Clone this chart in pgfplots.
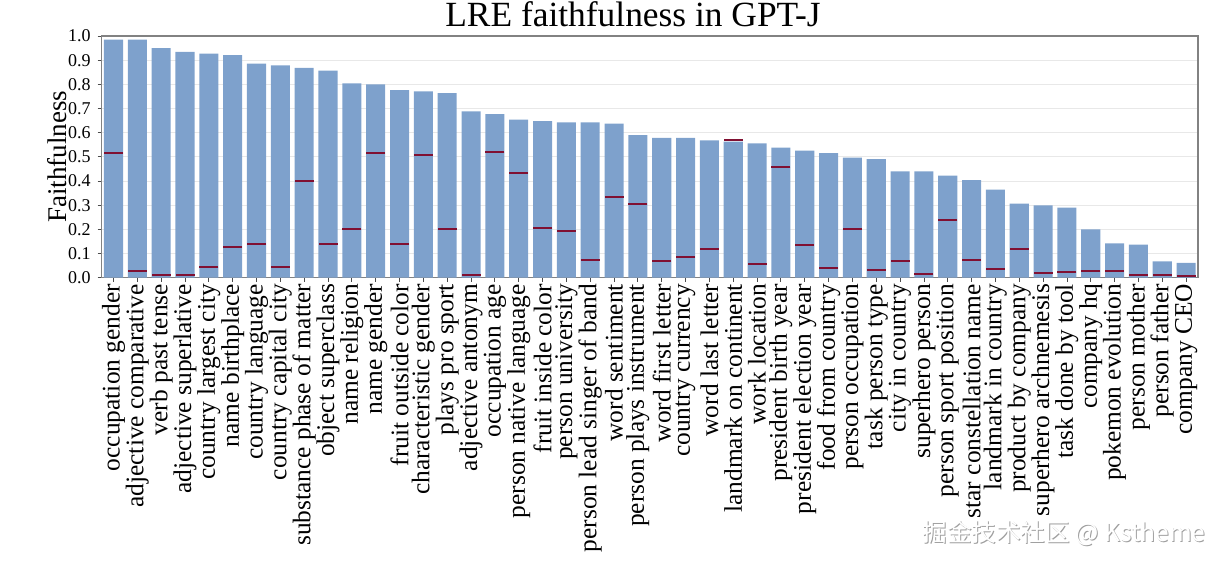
\documentclass[border=0pt]{standalone}
\usepackage{pgfplots}
\usepackage{pgfplotstable}
\pgfplotsset{compat=1.18}
\usepackage{fontspec}
\setmainfont{Liberation Serif}
\newfontfamily\cjk{Noto Sans CJK SC}
\definecolor{barblue}{RGB}{126,161,204}
\definecolor{linered}{RGB}{128,16,50}
\definecolor{framegray}{RGB}{130,130,130}
\pgfplotstableread{
x faith base
0 0.985 0.515
1 0.985 0.028
2 0.950 0.013
3 0.934 0.013
4 0.927 0.044
5 0.921 0.127
6 0.886 0.138
7 0.879 0.044
8 0.868 0.399
9 0.857 0.138
10 0.804 0.200
11 0.800 0.515
12 0.776 0.140
13 0.771 0.508
14 0.764 0.201
15 0.688 0.013
16 0.677 0.520
17 0.654 0.433
18 0.648 0.207
19 0.643 0.195
20 0.643 0.073
21 0.637 0.333
22 0.590 0.305
23 0.579 0.068
24 0.579 0.084
25 0.568 0.119
26 0.563 0.571
27 0.556 0.057
28 0.538 0.457
29 0.526 0.137
30 0.515 0.039
31 0.497 0.200
32 0.491 0.030
33 0.440 0.068
34 0.440 0.015
35 0.422 0.240
36 0.404 0.073
37 0.364 0.036
38 0.306 0.118
39 0.299 0.019
40 0.290 0.023
41 0.200 0.028
42 0.142 0.028
43 0.137 0.012
44 0.068 0.010
45 0.061 0.008
}\datatable
\begin{document}
\begin{tikzpicture}
\path[use as bounding box] (0,0) rectangle (613.5pt,282pt);
\begin{axis}[
  at={(50.8pt,143.15pt)}, anchor=south west,
  scale only axis, width=548.2pt, height=120.85pt,
  xmin=-0.5, xmax=45.5, ymin=0, ymax=1.0,
  xtick=data,
  xticklabels={occupation gender, adjective comparative, verb past tense, adjective superlative, country largest city, name birthplace, country language, country capital city, substance phase of matter, object superclass, name religion, name gender, fruit outside color, characteristic gender, plays pro sport, adjective antonym, occupation age, person native language, fruit inside color, person university, person lead singer of band, word sentiment, person plays instrument, word first letter, country currency, word last letter, landmark on continent, work location, president birth year, president election year, food from country, person occupation, task person type, city in country, superhero person, person sport position, star constellation name, landmark in country, product by company, superhero archnemesis, task done by tool, company hq, pokemon evolution, person mother, person father, company CEO},
  xticklabel style={rotate=90, anchor=east, font=\fontsize{12.7}{13}\selectfont, inner sep=1pt},
  ytick={0,0.1,...,1.0},
  yticklabel style={font=\fontsize{9}{10}\selectfont},
  /pgf/number format/fixed,
  /pgf/number format/fixed zerofill,
  /pgf/number format/precision=1,
  /pgf/number format/assume math mode=true,
  ymajorgrids, grid style={color=gray!18, line width=0.5pt},
  axis line style={color=framegray, line width=0.7pt},
  tick align=outside, major tick length=2pt,
  xtick pos=bottom, ytick pos=left,
  tick style={color=black!70, line width=0.4pt},
  ylabel={Faithfulness},
  ylabel style={at={(axis description cs:-0.0407,0.5)}, anchor=center, font=\fontsize{13.5}{14}\selectfont},
  every axis title shift=0pt,
  title={LRE faithfulness in GPT-J},
  title style={at={(axis description cs:0.4847,1.041)}, anchor=base, font=\fontsize{17.7}{18}\selectfont},
  clip=false,
]
\addplot[ybar, bar width=0.8, fill=barblue, draw=none] table[x=x, y=faith] {\datatable};
\addplot[only marks, mark=-, mark size=4.75pt, mark options={color=linered, line width=1pt}] table[x=x, y=base] {\datatable};
\end{axis}
\node[text=gray!75, font=\cjk\fontsize{12.3}{13}\selectfont] at (532.5pt,14.9pt) {掘金技术社区 @ Kstheme};
\node[text=white, font=\cjk\fontsize{12.3}{13}\selectfont] at (532pt,15.5pt) {掘金技术社区 @ Kstheme};
\end{tikzpicture}
\end{document}
